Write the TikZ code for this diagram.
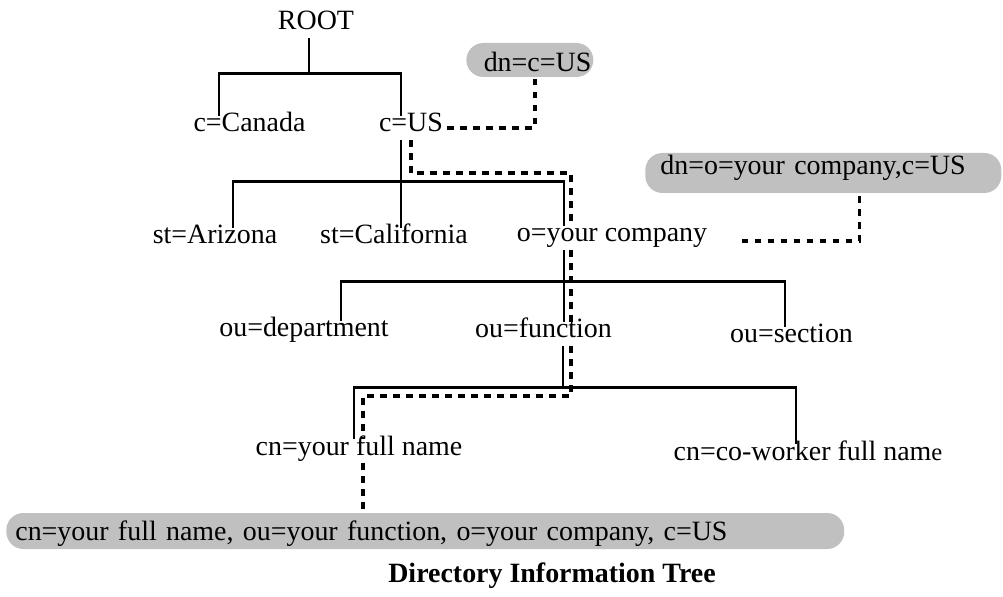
\documentclass[tikz,border=0pt]{standalone}
\usepackage{fontspec}
\setmainfont{Liberation Serif}
\usetikzlibrary{calc}
\definecolor{pillgray}{RGB}{192,192,192}

\begin{document}
\begin{tikzpicture}[x=0.02cm, y=-0.02cm,
    font=\fontsize{15.9}{19}\selectfont,
    entry/.style={anchor=base, inner sep=0.08cm, text height=0.69em, text depth=0.22em},
    pill/.style={anchor=base west, fill=pillgray, rounded corners=0.34cm, inner ysep=0pt},
    tree/.style={line width=1.55pt},
    dn/.style={line width=1.9pt, dash pattern=on 3.6pt off 3.8pt}]
    \useasboundingbox (0,0) rectangle (1003,597);

    \node[entry] (root) at (316,30) {ROOT};
    \node[entry] (canada) at (249.5,132) {c=Canada};
    \node[entry] (us) at (411,132) {c=US};
    \node[entry] (arizona) at (215,244) {st=Arizona};
    \node[entry] (california) at (394,244) {st=California};
    \node[entry] (company) at (612,242) {o=your company};
    \node[entry] (department) at (304,337) {ou=department};
    \node[entry] (function) at (543.5,338) {ou=function};
    \node[entry] (section) at (791.5,343) {ou=section};
    \node[entry] (yourname) at (359,455) {cn=your full name};
    \node[entry] (coworker) at (808,460) {cn=co-worker full nam{\fontsize{14}{17}\selectfont e}};

    \node[pill, inner xsep=0.04cm, text width=2.46cm, align=right, text height=0.58cm, text depth=0.1cm]
        (dnc) at (466,72) {dn=c=US};
    \node[pill, inner xsep=0.3cm, text width=6.52cm, align=left, text height=0.44cm, text depth=0.36cm]
        (dnco) at (645,175) {dn=o=your company,c=US};
    \node[pill, inner xsep=0.18cm, text width=16.4cm, align=left, text height=0.54cm, text depth=0.18cm]
        (dnfull) at (6,540) {cn=your full name, ou=your function, o=your company, c=US};

    \node[anchor=base, font=\fontsize{15.9}{19}\selectfont\bfseries] (title) at (552,582) {Directory Information Tree};

    \draw[tree] ($(root.south)+(-7,0)$) -- ++(0,35) coordinate (b1);
    \draw[tree] ($(canada.north)+(-30.5,0)$) |- (b1) -| ($(us.north)+(-10,0)$);
    \draw[tree] ($(us.south)+(-10,0)$) -- ++(0,41) coordinate (b2);
    \draw[tree] ($(arizona.north)+(18,0)$) |- (b2) -| ($(company.north)+(-48,0)$);
    \draw[tree] (b2) -- (b2 |- california.north);
    \draw[tree] ($(company.south)+(-48,0)$) -- ++(0,31) coordinate (b3);
    \draw[tree] ($(department.north)+(37,0)$) |- (b3) -| ($(section.north)+(-6.5,0)$);
    \draw[tree] (b3) -- (b3 |- function.north);
    \draw[tree] ($(function.south)+(19.5,0)$) -- ++(0,41) coordinate (b4);
    \draw[tree] ($(yourname.north)+(-5,0)$) |- (b4) -| ($(coworker.north)+(-12,0)$);

    \coordinate (k1) at (571,173);
    \coordinate (k2) at (571,396);
    \draw[dn] (us.east) -| ($(dnc.south)+(5,0)$);
    \draw[dn] (us.south) |- (k1) -- (k1 |- company.north);
    \draw[dn] (company.south -| k1) -- (k1 |- function.north);
    \draw[dn] (function.south -| k1) -- (k2) -| ($(yourname.north)+(4,0)$);
    \draw[dn] ($(yourname.south)+(4,0)$) -- ($(yourname.south |- dnfull.north)+(4,0)$);
    \draw[dn] ($(company.east)+(30,3)$) -| ($(dnco.south)+(36,0)$);
\end{tikzpicture}
\end{document}
